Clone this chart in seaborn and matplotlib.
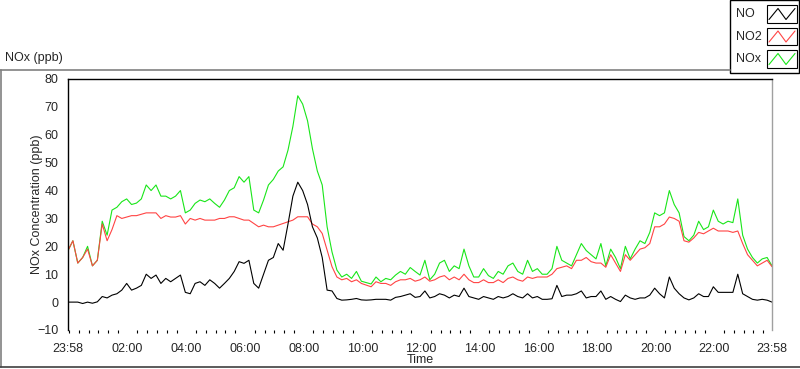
import matplotlib
matplotlib.use("Agg")
import matplotlib.pyplot as plt
from matplotlib.lines import Line2D
from matplotlib.patches import Rectangle
import numpy as np
import pandas as pd
import seaborn as sns

sns.set_style("white")
plt.rcParams['font.family'] = ['Liberation Sans', 'DejaVu Sans']

# minutes after 23:58, one reading every 10 min
minutes = np.arange(0, 1441, 10)

no_ppb = [0, 0, 0, -0.5, 0, -0.4, 0.1, 2, 1.5, 2.5, 3, 4.3, 6.7, 4.3, 5, 6, 10, 8.5, 9.7, 6.7, 8.5, 7.3, 8.5, 9.7, 3.5,
          3, 6.7, 7.3, 6, 8, 6.7, 5, 6.7, 8.5, 11, 14.5, 13.9, 15, 6.7, 5, 10, 15, 16, 21, 18.6, 28, 38, 43,
          40, 35, 27, 23, 16, 4.3, 4, 1.3, 0.7, 0.8, 1, 1.3, 0.8, 0.7, 0.8, 1,
          1, 1, 0.7, 1.7, 2, 2.5, 3, 1.7, 2,
          4, 1.5, 2, 3, 2.5, 1.5, 2.5, 2, 5, 2, 1.5, 1, 2, 1.5, 1, 2, 1.5, 2, 3, 2, 1.5, 3, 1.5, 2,
          1, 1, 1.2, 6, 2, 2.5, 2.5, 3, 4, 1.5, 2, 2, 4, 1, 2, 1, 0.2, 2.5, 1.5, 1, 1.5, 1.5, 2.5, 5,
          3, 1.5, 9, 5, 3, 1.5, 0.8, 1.5, 3, 2, 2, 5.5, 3.5, 3.5, 3.5, 3.5, 10, 3, 2, 1, 0.7, 1, 0.7, 0]

no2_ppb = [18.5, 22, 14, 16, 19, 13, 15, 28, 22, 26, 31, 30, 30.5, 31, 31, 31.5, 32, 32, 32, 30, 31, 30.5, 30.5, 31, 28,
           30, 29.4, 30, 29.4, 29.4, 29.4, 30, 30, 30.6, 30.6, 30, 29.4, 29.4, 28.2, 27, 27.6, 27, 27, 27.6, 28.2, 28.8, 29.4, 30.6,
           30.6, 30.6, 28, 27, 24.6, 18.6, 12.7, 9, 8, 8.5, 7.3, 8, 6.7, 6.1, 5.5, 7.3,
           6.7, 6.7, 6, 7.3, 8, 8, 8.5, 7.5, 8,
           9, 7.5, 8, 9, 9.5, 8, 9, 8, 10, 8, 7, 7, 8, 7, 7, 8, 7, 8.5, 9, 8, 7.5, 9, 8.5, 9,
           9, 9, 10, 12, 12.5, 13, 12, 15, 15, 16, 14.5, 14, 14, 12.5, 17, 14, 11, 17, 15, 17, 19, 19.5, 21, 27,
           27, 28, 30.5, 30, 29, 22, 21.5, 23, 25, 24.5, 25.5, 26.5, 25.5, 25.5, 25.5, 25, 25.5, 21, 17, 15, 13, 14, 15, 12.7]

nox_ppb = [18.5, 22, 14, 16, 20, 13, 15, 29, 24, 33, 34, 36, 37, 35, 35.5, 37, 42, 40, 42, 38, 38, 37, 38, 40, 32,
           33, 35.4, 36.6, 36, 37, 35.4, 34, 36.6, 40, 41, 45, 43, 45, 33, 32, 36.6, 42, 44, 47, 48.5, 54.5, 63, 74,
           71, 65, 55, 47, 42, 27, 18, 11.5, 9, 10, 8.5, 11, 7.5, 7, 6.5, 9,
           7.3, 8.5, 8, 9.7, 11, 10, 12.4, 11, 9.7,
           15, 8, 10, 14, 15, 11, 13, 12, 19, 13, 9, 9, 12, 9.5, 8.5, 11, 10, 13, 14, 11, 10, 15, 11, 12,
           10, 10, 12, 20, 15, 14, 13, 17, 21, 18.5, 17, 15.5, 21, 13, 19, 16, 12, 20, 15.5, 19, 22, 21, 25, 32,
           31, 32, 40, 35, 32, 23.5, 22, 24, 29, 26, 27, 33, 29, 28, 29, 28.5, 37, 24, 19, 16, 14, 15.5, 16, 13]

tick_pos = [0, 122, 242, 362, 482, 602, 722, 842, 962, 1082, 1202, 1322, 1440]
tick_labels = ['23:58', '02:00', '04:00', '06:00', '08:00', '10:00', '12:00',
               '14:00', '16:00', '18:00', '20:00', '22:00', '23:58']

series_names = ['NO', 'NO2', 'NOx']
series_colors = {'NO': '#000000', 'NO2': '#ff4444', 'NOx': '#19e619'}

df = pd.DataFrame({'minutes': minutes, 'NO': no_ppb, 'NO2': no2_ppb, 'NOx': nox_ppb})

W, H = 800, 369
fig = plt.figure(figsize=(W / 100, H / 100), dpi=100)
ax = fig.add_axes([68 / W, 1 - 330 / H, 704 / W, 251 / H])

# green at the bottom, black on top
for name in ['NOx', 'NO2', 'NO']:
    sns.lineplot(data=df, x='minutes', y=name, ax=ax, color=series_colors[name],
                 linewidth=0.8, legend=False)

ax.set_xlim(0, 1440)
ax.set_ylim(-10, 80)
ax.set_yticks(range(-10, 81, 10))
ax.set_xticks(tick_pos)
ax.set_xticklabels(tick_labels)
ax.set_xticks([m for m in range(2, 1440, 20) if m not in tick_pos], minor=True)
ax.tick_params(axis='both', which='major', direction='out', length=4.5, width=1,
               labelsize=9, color='black', pad=2.5)
ax.tick_params(axis='x', which='minor', direction='out', length=2.5, width=0.8, color='black', bottom=True)
ax.tick_params(axis='x', which='major', pad=5)
ax.set_xlabel('Time', fontsize=9)
ax.xaxis.set_label_coords(0.5, -(360 - 330) / 251, transform=ax.transAxes)
ax.xaxis.label.set_va('center')
ax.set_ylabel('NOx Concentration (ppb)', fontsize=9)
ax.yaxis.set_label_coords((37 - 68) / 704, 0.5)
ax.yaxis.label.set_va('center')

ax.spines['left'].set_color('black')
ax.spines['top'].set_color('black')
ax.spines['right'].set_color('#a0a0a0')
ax.spines['bottom'].set_visible(False)
for s in ['left', 'top', 'right']:
    ax.spines[s].set_linewidth(1.0)

# outer frame of the chart panel
fig.add_artist(Line2D([0, 730 / W], [1 - 69.5 / H, 1 - 69.5 / H], color='#808080', lw=1.2))
fig.add_artist(Line2D([0.8 / W, 0.8 / W], [1 - 69.5 / H, 1 - 367 / H], color='#808080', lw=1.2))
fig.add_artist(Line2D([0, 1], [1 - 367 / H, 1 - 367 / H], color='#404040', lw=1.2))
fig.text(5 / W, 1 - 58 / H, 'NOx (ppb)', fontsize=9, va='center', ha='left')

# legend panel in the top right corner
fig.add_artist(Rectangle((730 / W, 1 - 73 / H), 69 / W, 73 / H, transform=fig.transFigure,
                         facecolor='white', edgecolor='black', lw=1.0))
for i, name in enumerate(series_names):
    yc = 14 + i * 22.5
    fig.text(736 / W, 1 - yc / H, name, fontsize=9, va='center', ha='left')
    x0, x1 = 767, 797
    y0, y1 = yc - 8.5, yc + 8.5
    fig.add_artist(Rectangle((x0 / W, 1 - y1 / H), (x1 - x0) / W, (y1 - y0) / H,
                             transform=fig.transFigure, facecolor='white', edgecolor='black', lw=0.8))
    zx = [x0 + 2, x0 + 11, x0 + 19, x0 + 28]
    zy = [y1 - 3, y0 + 3, y1 - 3, y0 + 3]
    fig.add_artist(Line2D([v / W for v in zx], [1 - v / H for v in zy],
                          color=series_colors[name], lw=0.8))

fig.savefig('out.png', dpi=100)
